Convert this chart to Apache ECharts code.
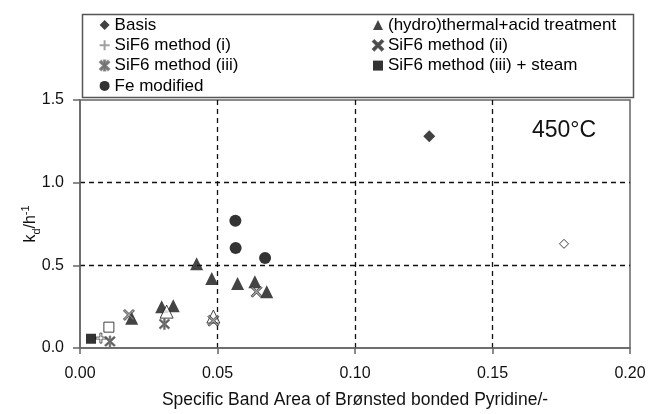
<!DOCTYPE html>
<html>
<head>
<meta charset="utf-8">
<script src="https://cdn.jsdelivr.net/npm/echarts@6/dist/echarts.min.js"></script>
<style>
  html, body { margin: 0; padding: 0; background: #fff; }
  #chart { width: 651px; height: 414px; }
</style>
</head>
<body>
<div id="chart"></div>
<script>
// Axis ticks
const xTicks = [0, 0.05, 0.10, 0.15, 0.20];
const yTicks = [0, 0.5, 1.0, 1.5];

// Series names
const seriesNames = [
  'Basis',
  '(hydro)thermal+acid treatment',
  'SiF6 method (i)',
  'SiF6 method (ii)',
  'SiF6 method (iii)',
  'SiF6 method (iii) + steam',
  'Fe modified'
];

// [band area, kd, open marker?]
const basis = [[0.127, 1.28, 0], [0.176, 0.63, 1]];
const hydroAcid = [
  [0.0424, 0.51, 0], [0.0479, 0.42, 0], [0.0297, 0.25, 0], [0.0339, 0.255, 0],
  [0.0315, 0.22, 1], [0.0188, 0.18, 0], [0.0485, 0.19, 1],
  [0.0573, 0.39, 0], [0.0636, 0.40, 0], [0.0679, 0.34, 0]
];
const sif6i = [[0.0076, 0.06, 1]];
const sif6ii = [[0.0178, 0.20, 0], [0.0485, 0.165, 0], [0.0642, 0.34, 0]];
const sif6iii = [[0.0109, 0.04, 0], [0.0307, 0.145, 0]];
const sif6iiiSteam = [[0.0040, 0.056, 0], [0.0105, 0.126, 1]];
const feModified = [[0.0565, 0.77, 0], [0.0566, 0.605, 0], [0.0673, 0.545, 0]];

// Marker shapes
const plusPath = 'path://M40 0 L60 0 L60 40 L100 40 L100 60 L60 60 L60 100 L40 100 L40 60 L0 60 L0 40 L40 40 Z';
const crossPath = 'path://M4 16 L16 4 L50 38 L84 4 L96 16 L62 50 L96 84 L84 96 L50 62 L16 96 L4 84 L38 50 Z';
const starPath = 'path://M43 0 L57 0 L57 100 L43 100 Z M4 16 L16 4 L96 84 L84 96 Z M84 4 L96 16 L16 96 L4 84 Z';

function toData(arr, fill) {
  return arr.map(function (p) {
    const item = { value: [p[0], p[1]] };
    if (p[2]) {
      item.itemStyle = { color: '#fff', borderColor: '#111', borderWidth: 1 };
    } else if (fill) {
      item.itemStyle = fill;
    }
    return item;
  });
}

const chart = echarts.init(document.getElementById('chart'), null, { renderer: 'canvas' });

const font = 'Liberation Sans, Arial, Helvetica, sans-serif';

const option = {
  backgroundColor: '#fff',
  animation: false,
  textStyle: { fontFamily: font },
  grid: {
    left: 80, top: 100, right: 21, bottom: 64,
    show: true, borderColor: '#666', borderWidth: 1.5, backgroundColor: 'transparent'
  },
  legend: [
    {
      data: [seriesNames[0], seriesNames[2], seriesNames[4], seriesNames[6]],
      orient: 'vertical', left: 94, top: 11,
      itemWidth: 10, itemHeight: 10, itemGap: 2.3,
      textStyle: { fontSize: 17, color: '#000', fontFamily: font, lineHeight: 18 }
    },
    {
      data: [seriesNames[1], seriesNames[3], seriesNames[5]],
      orient: 'vertical', left: 367, top: 11,
      itemWidth: 10, itemHeight: 10, itemGap: 2.3,
      textStyle: { fontSize: 17, color: '#000', fontFamily: font, lineHeight: 18 }
    }
  ],
  graphic: [
    {
      type: 'rect', left: 80, top: 12, silent: true,
      shape: { width: 551, height: 83 },
      style: { fill: 'none', stroke: '#555', lineWidth: 1.5 }
    },
    {
      type: 'text', left: 532, top: 119, silent: true,
      style: { text: '450°C', fontSize: 23, fontFamily: font, fill: '#111' }
    }
  ],
  xAxis: {
    type: 'value', min: xTicks[0], max: xTicks[xTicks.length - 1], interval: 0.05,
    name: 'Specific Band Area of Brønsted bonded Pyridine/-',
    nameLocation: 'middle', nameGap: 43, nameMoveOverlap: false,
    nameTextStyle: { fontSize: 17.5, color: '#111', fontFamily: font },
    axisLine: { show: true, lineStyle: { color: '#666', width: 1.5 } },
    axisTick: { show: true, length: 6, lineStyle: { color: '#666', width: 1.5 } },
    axisLabel: { fontSize: 16, color: '#111', margin: 18, fontFamily: font,
      formatter: function (v) { return v.toFixed(2); } },
    splitLine: { show: true, showMinLine: false, showMaxLine: false,
      lineStyle: { color: '#111', type: [5, 4], width: 1.3 } }
  },
  yAxis: {
    type: 'value', min: yTicks[0], max: yTicks[yTicks.length - 1], interval: 0.5,
    name: '{a|k}{b|d}{a|/h}{c|-1}',
    nameLocation: 'middle', nameGap: 38, nameRotate: 90, nameMoveOverlap: false,
    nameTextStyle: {
      color: '#111', fontFamily: font,
      rich: {
        a: { fontSize: 16, fontFamily: font, color: '#111', lineHeight: 22, verticalAlign: 'middle' },
        b: { fontSize: 11, fontFamily: font, color: '#111', lineHeight: 22, verticalAlign: 'bottom' },
        c: { fontSize: 11, fontFamily: font, color: '#111', lineHeight: 22, verticalAlign: 'top' }
      }
    },
    axisLine: { show: true, lineStyle: { color: '#666', width: 1.5 } },
    axisTick: { show: true, length: 7, lineStyle: { color: '#666', width: 1.5 } },
    axisLabel: { fontSize: 16, color: '#111', margin: 16, fontFamily: font,
      formatter: function (v) { return v.toFixed(1); } },
    splitLine: { show: true, showMinLine: false, showMaxLine: false,
      lineStyle: { color: '#111', type: [5, 4], width: 1.3 } }
  },
  series: [
    {
      name: seriesNames[0], type: 'scatter', symbol: 'diamond', symbolSize: 12,
      itemStyle: { color: '#111' },
      data: toData(basis).map(function (d, i) {
        if (basis[i][2]) { d.symbolSize = 9; }
        return d;
      })
    },
    {
      name: seriesNames[1], type: 'scatter', symbol: 'triangle', symbolSize: 13,
      itemStyle: { color: '#151515' },
      data: toData(hydroAcid)
    },
    {
      name: seriesNames[2], type: 'scatter', symbol: plusPath, symbolSize: 10,
      itemStyle: { color: '#888' },
      data: toData(sif6i).map(function (d) {
        d.itemStyle = { color: '#fff', borderColor: '#333', borderWidth: 1 };
        return d;
      })
    },
    {
      name: seriesNames[3], type: 'scatter', symbol: crossPath, symbolSize: 11,
      itemStyle: { color: '#888', borderColor: '#333', borderWidth: 1 },
      data: toData(sif6ii)
    },
    {
      name: seriesNames[4], type: 'scatter', symbol: starPath, symbolSize: 11,
      itemStyle: { color: '#333', borderColor: '#777', borderWidth: 0.8 },
      data: toData(sif6iii)
    },
    {
      name: seriesNames[5], type: 'scatter', symbol: 'rect', symbolSize: 10,
      itemStyle: { color: '#000' },
      data: toData(sif6iiiSteam)
    },
    {
      name: seriesNames[6], type: 'scatter', symbol: 'circle', symbolSize: 12,
      itemStyle: { color: '#000' },
      data: toData(feModified)
    }
  ]
};

chart.setOption(option);
</script>
</body>
</html>
